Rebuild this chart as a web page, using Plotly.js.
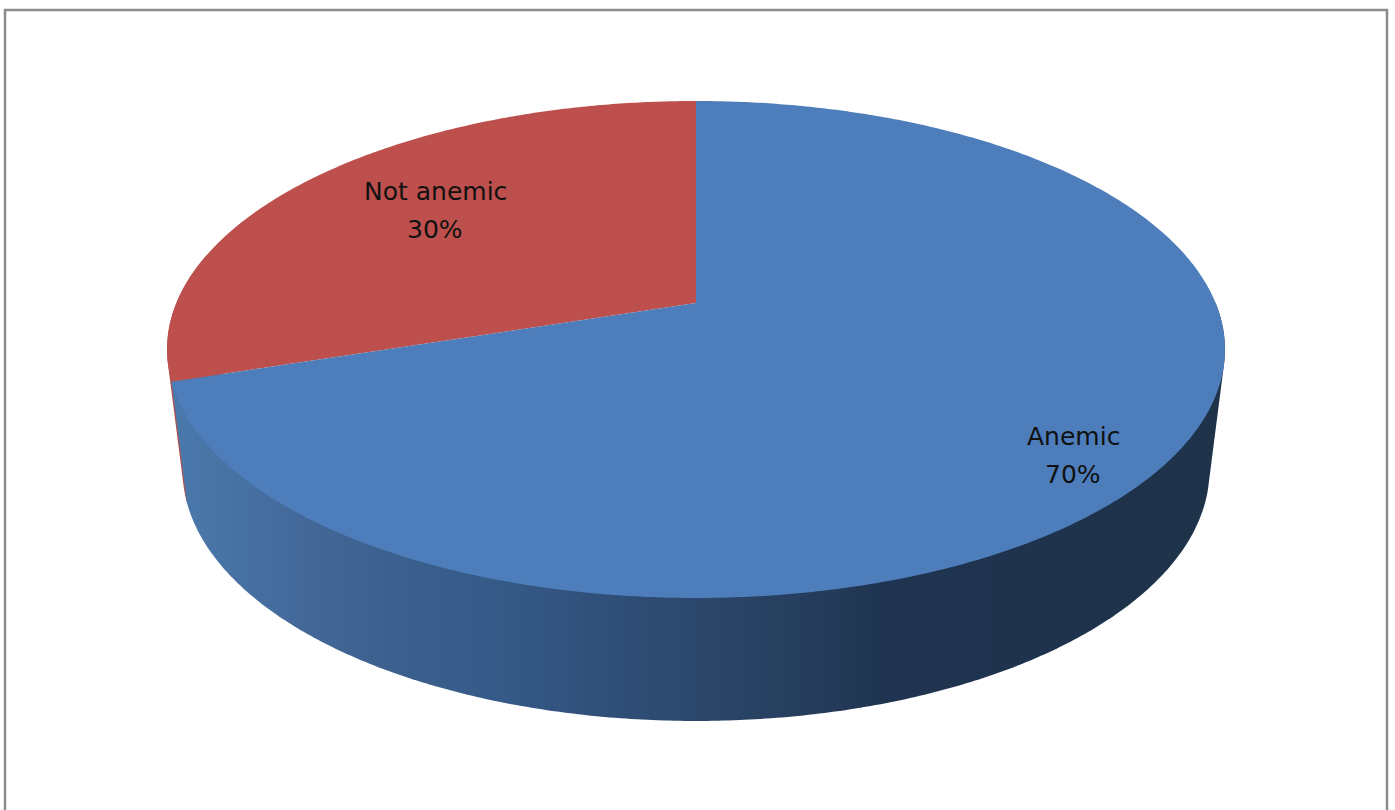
<!DOCTYPE html>
<html>
<head>
<meta charset="utf-8">
<script src="https://cdn.plot.ly/plotly-3.0.1.min.js"></script>
<style>html,body{margin:0;padding:0;background:#fff;overflow:hidden}</style>
</head>
<body>
<div id="chart" style="width:1395px;height:810px"></div>
<script>
// Anaemia prevalence, drawn as a tilted disc
const categories = ['Anemic', 'Not anemic'];
const values = [70, 30];
const sliceColors = ['#4d7ebb', '#bd4f4c'];

// Disc projection: viewer tilt, perspective strength and offset of the base rim
const view = {cx: 696, apexY: 303, radius: 519.6, depth: 239.8, persp: 0.1871};
const base = {scaleX: 0.9707, scaleY: 1.01, apexY: 423};

function project(deg, lower) {
  const t = deg * Math.PI / 180;
  const sx = lower ? base.scaleX : 1;
  const sy = lower ? base.scaleY : 1;
  const ay = lower ? base.apexY : view.apexY;
  const w = 1 + view.persp * Math.cos(t);
  return [view.cx + sx * view.radius * Math.sin(t) / w,
          ay - sy * view.depth * Math.cos(t) / w];
}

function arc(from, to, lower) {
  const pts = [];
  const n = Math.max(2, Math.ceil(Math.abs(to - from) * 2));
  for (let i = 0; i <= n; i++) pts.push(project(from + (to - from) * i / n, lower));
  return pts;
}

// Outline of the wall: convex hull around the matching arcs of the two rims
function hull(points) {
  const p = points.slice().sort((a, b) => a[0] - b[0] || a[1] - b[1]);
  const cross = (o, a, b) => (a[0]-o[0])*(b[1]-o[1]) - (a[1]-o[1])*(b[0]-o[0]);
  const half = list => {
    const out = [];
    for (const q of list) {
      while (out.length > 1 && cross(out[out.length-2], out[out.length-1], q) <= 0) out.pop();
      out.push(q);
    }
    out.pop();
    return out;
  };
  const ring = half(p).concat(half(p.slice().reverse()));
  ring.push(ring[0]);
  return ring;
}

const total = values.reduce((a, b) => a + b, 0);
const boundaries = [0];
values.forEach(v => boundaries.push(boundaries[boundaries.length - 1] + v / total * 360));

function polyTrace(pts, extra) {
  return Object.assign({
    type: 'scatter', mode: 'lines', x: pts.map(p => p[0]), y: pts.map(p => p[1]),
    line: {width: 0, simplify: false}, fill: 'toself', hoverinfo: 'skip', showlegend: false
  }, extra);
}

const split = boundaries[1];
const wallRed = hull(arc(split, split + 30, false).concat(arc(split, split + 30, true)));
const wallBlue = hull(arc(90, split, false).concat(arc(90, split, true)));

const wallShades = [
  [0, '#4a78ab'], [0.114, '#43699a'], [0.21, '#3c608d'], [0.31, '#355a87'],
  [0.407, '#305079'], [0.503, '#2b476b'], [0.6, '#263e5e'], [0.68, '#1f3450'], [1, '#1e3249']
];

function slicePoly(i) {
  return [[view.cx, view.apexY]].concat(arc(boundaries[i], boundaries[i + 1], false));
}

const traces = [
  polyTrace(wallRed, {fillcolor: '#b04e4c'}),
  polyTrace(wallBlue, {
    fillcolor: sliceColors[0],
    fillgradient: {type: 'horizontal', colorscale: wallShades, start: 183, stop: 1210}
  }),
  polyTrace(slicePoly(1), {fillcolor: sliceColors[1], name: categories[1]}),
  polyTrace(slicePoly(0), {fillcolor: sliceColors[0], name: categories[0]})
];

const labelAnchors = [[1073, 436, 474], [435, 191, 229]];
const annotations = [];
categories.forEach((c, i) => {
  const [x, y1, y2] = labelAnchors[i];
  const font = {family: 'DejaVu Sans', size: 25, color: '#111111'};
  annotations.push({x, y: y1, text: c, showarrow: false, font, xanchor: 'center', yanchor: 'middle'});
  annotations.push({x, y: y2, text: Math.round(values[i] / total * 100) + '%', showarrow: false, font, xanchor: 'center', yanchor: 'middle'});
});

const layout = {
  width: 1395, height: 810,
  margin: {l: 0, r: 0, t: 0, b: 0},
  paper_bgcolor: '#ffffff', plot_bgcolor: '#ffffff',
  showlegend: false,
  xaxis: {range: [0, 1395], visible: false, fixedrange: true},
  yaxis: {range: [810, 0], visible: false, fixedrange: true},
  annotations,
  shapes: [{type: 'rect', xref: 'x', yref: 'y', x0: 5, x1: 1387, y0: 10, y1: 830,
            line: {color: '#8c8c8c', width: 2.5}, layer: 'below'}]
};

Plotly.newPlot('chart', traces, layout, {displayModeBar: false, staticPlot: true});
</script>
</body>
</html>
